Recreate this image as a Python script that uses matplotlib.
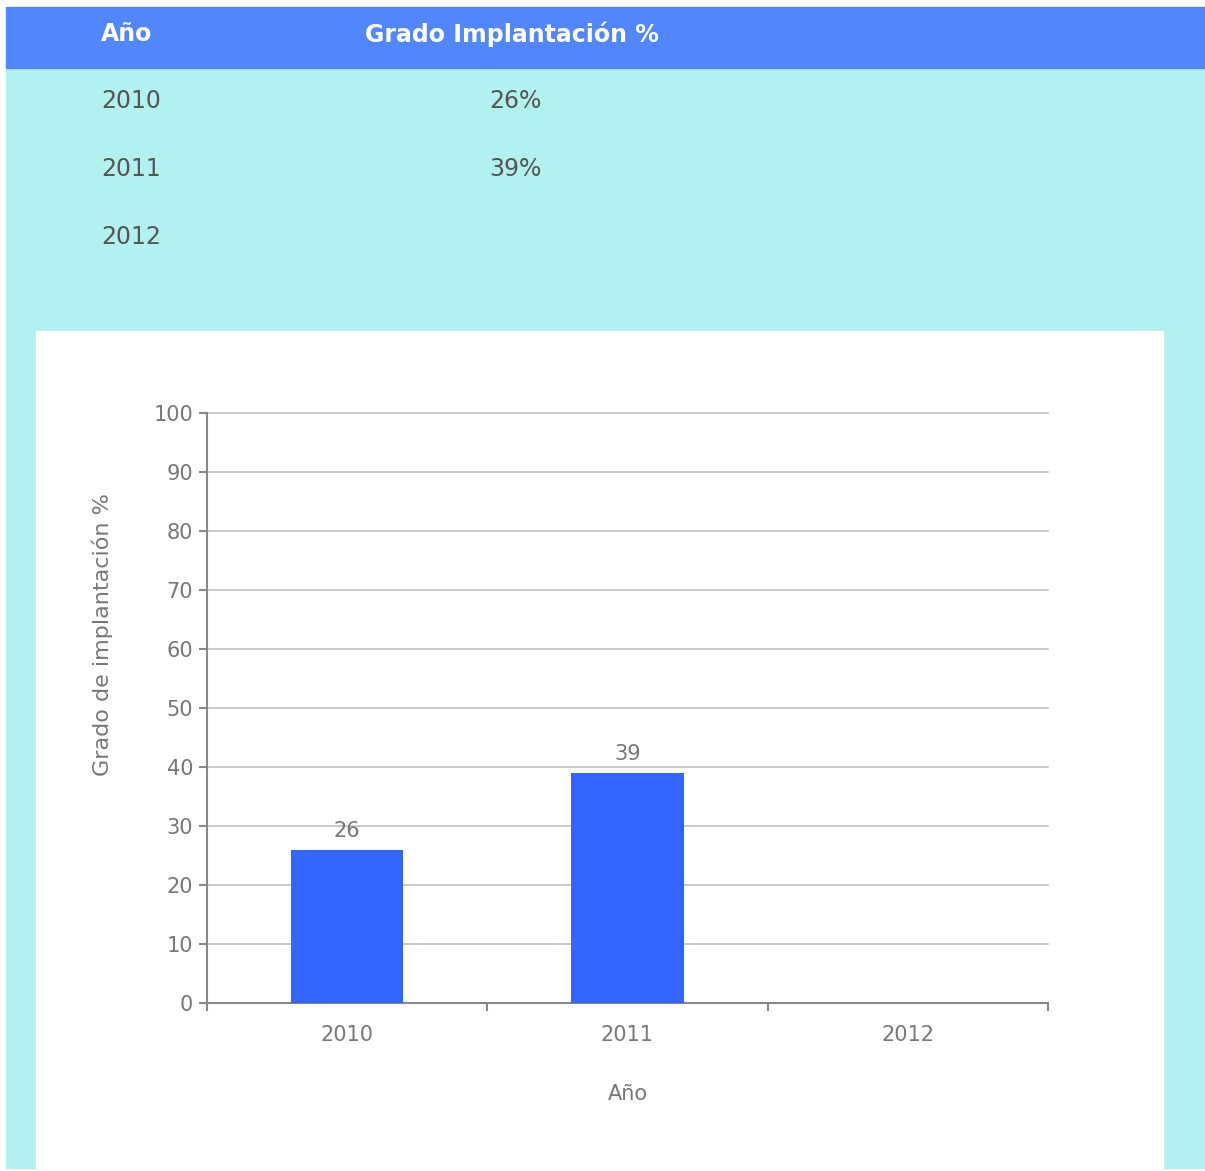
import matplotlib.pyplot as plt
from matplotlib.patches import Rectangle

# datos
anios = ["2010", "2011", "2012"]
grado = [26, 39, 0]
grado_tabla = ["26%", "39%", ""]
y_ticks = [0, 10, 20, 30, 40, 50, 60, 70, 80, 90, 100]

W, H = 1205, 1171
fig = plt.figure(figsize=(W / 100, H / 100), dpi=100)
fig.patch.set_facecolor("white")

def fx(px):
    return px / W

def fy(py):
    return 1 - py / H

# fondos
fig.patches.append(Rectangle((fx(6), fy(1168)), fx(1199), fy(68) - fy(1168),
                             transform=fig.transFigure, color="#b3f0f0", zorder=-2))
fig.patches.append(Rectangle((fx(6), fy(68)), fx(1199), fy(7) - fy(68),
                             transform=fig.transFigure, color="#5286ff", zorder=-2))
fig.patches.append(Rectangle((fx(36), fy(1168)), fx(1127), fy(331) - fy(1168),
                             transform=fig.transFigure, color="white", zorder=-1))

# tabla
fig.text(fx(101), fy(34), "Año", color="white", fontsize=17, fontweight="bold", va="center")
fig.text(fx(365), fy(34), "Grado Implantación %", color="white", fontsize=17,
         fontweight="bold", va="center")
for i, (a, g) in enumerate(zip(anios, grado_tabla)):
    yy = fy(101 + 68 * i)
    fig.text(fx(101), yy, a, color="#555555", fontsize=17, va="center")
    fig.text(fx(489), yy, g, color="#555555", fontsize=17, va="center")

# grafico
ax = fig.add_axes([fx(207), fy(1003), fx(1048) - fx(207), fy(413) - fy(1003)])
ax.set_zorder(2)
x = list(range(len(anios)))
ax.bar(x, grado, width=0.4, color="#3366ff", zorder=3)
for xi, v in zip(x, grado):
    if v > 0:
        ax.text(xi, v + 1.5, str(v), ha="center", va="bottom", color="#777777", fontsize=15)

ax.set_xlim(-0.5, len(anios) - 0.5)
ax.set_ylim(0, 100)
ax.set_yticks(y_ticks)
ax.set_xticks(x)
ax.set_xticklabels(anios)
ax.set_xticks([i - 0.5 for i in range(len(anios) + 1)], minor=True)
ax.tick_params(axis="x", which="major", length=0, pad=16, labelsize=15, labelcolor="#777777")
ax.tick_params(axis="x", which="minor", length=6, width=1.5, color="#888888", direction="out")
ax.tick_params(axis="y", length=6, width=1.5, color="#888888", labelsize=15,
               labelcolor="#777777", pad=4)
ax.grid(axis="y", color="#c0c0c0", linewidth=1.2, zorder=0)
for linea in ax.get_ygridlines():
    linea.set_clip_on(False)
for s in ["top", "right"]:
    ax.spines[s].set_visible(False)
for s in ["left", "bottom"]:
    ax.spines[s].set_color("#888888")
    ax.spines[s].set_linewidth(1.5)
ax.set_axisbelow(True)

ax.set_ylabel("Grado de implantación %", color="#777777", fontsize=16)
ax.yaxis.set_label_coords(-0.112, 0.624)
ax.set_xlabel("Año", color="#777777", fontsize=15)
ax.xaxis.set_label_coords(0.5, -0.137)

fig.savefig("out.png", dpi=100, facecolor=fig.get_facecolor())
